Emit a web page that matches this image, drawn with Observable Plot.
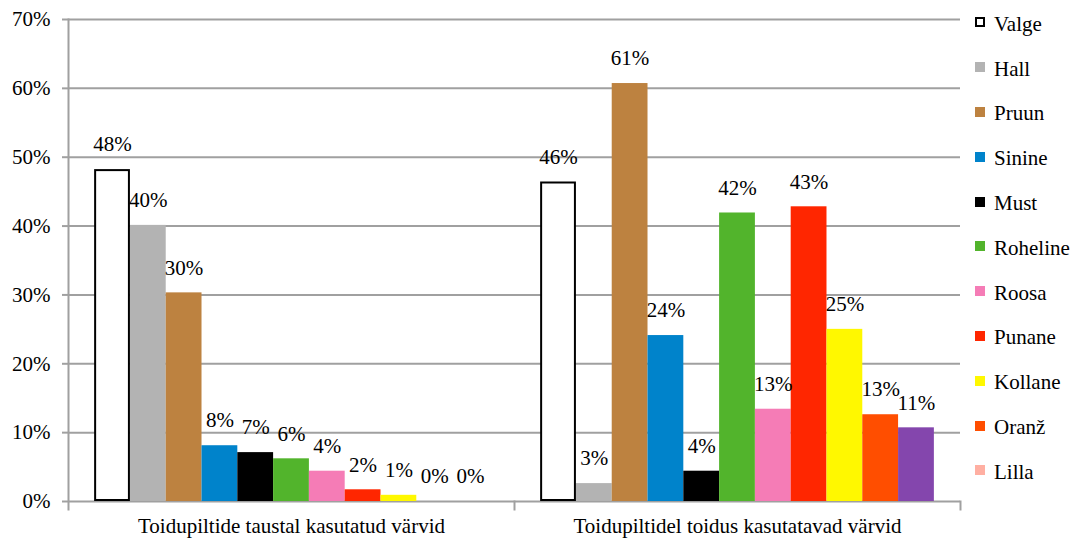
<!DOCTYPE html>
<html>
<head>
<meta charset="utf-8">
<script src="https://cdn.jsdelivr.net/npm/d3@7"></script>
<script src="https://cdn.jsdelivr.net/npm/@observablehq/plot@0.6"></script>
<style>
  body { margin: 0; background: #fff; font-family: "Liberation Serif", "DejaVu Serif", serif; }
  #wrap { position: relative; width: 1073px; height: 539px; }
  #chart { position: absolute; left: 0; top: 0; }
  #chart svg text { font-family: "Liberation Serif", serif; }
  #legend { position: absolute; left: 975px; top: 2px; font-size: 21px; color: #000; font-family: "Liberation Serif", serif; }
  .item { display: flex; align-items: center; height: 44.8px; }
  .item .sw { width: 10px; height: 10px; margin-right: 9px; box-sizing: border-box; position: relative; top: -2px; }
  .item .lb { line-height: 1; }
</style>
</head>
<body>
<div id="wrap">
  <div id="chart"></div>
  <div id="legend"></div>
</div>
<script>
const groups = ["Toidupiltide taustal kasutatud värvid", "Toidupiltidel toidus kasutatavad värvid"];
const series = ["Valge", "Hall", "Pruun", "Sinine", "Must", "Roheline", "Roosa", "Punane", "Kollane", "Oranž", "Lilla"];
const background = [48.2, 40.1, 30.3, 8.1, 7.1, 6.2, 4.4, 1.7, 0.9, 0, 0];
const food = [46.4, 2.6, 60.7, 24.1, 4.4, 41.9, 13.4, 42.8, 25.0, 12.6, 10.7];
const barColors = ["#ffffff", "#b3b3b3", "#bd8240", "#0083cb", "#000000", "#52b42c", "#f57cb6", "#ff2600", "#fff800", "#ff4e00", "#8446ad"];
const legendColors = ["#ffffff", "#b3b3b3", "#bd8240", "#0083cb", "#000000", "#52b42c", "#f57cb6", "#ff2600", "#fff800", "#ff4e00", "#ffafa2"];
const yTicks = [0, 10, 20, 30, 40, 50, 60, 70];

const data = [];
series.forEach((s, i) => data.push({group: groups[0], series: s, value: background[i]}));
series.forEach((s, i) => data.push({group: groups[1], series: s, value: food[i]}));

const grid = "#a0a0a0";
const font = "Liberation Serif";
const chart = Plot.plot({
  width: 962,
  height: 539,
  marginLeft: 68,
  marginRight: 2,
  marginTop: 19,
  marginBottom: 38,
  style: {fontFamily: font, fontSize: "21px", color: "#000", background: "transparent"},
  fx: {domain: groups, padding: 0, axis: null, round: false},
  x: {domain: series, paddingInner: 0, paddingOuter: 0.73, axis: null, round: false},
  y: {domain: [0, 70], axis: null},
  color: {domain: series, range: barColors},
  marks: [
    Plot.gridY(yTicks.filter(d => d > 0), {stroke: grid, strokeOpacity: 1, strokeWidth: 2}),
    Plot.ruleY([0], {stroke: grid, strokeWidth: 2}),
    Plot.frame({anchor: "left", facetAnchor: "left", stroke: grid, strokeWidth: 2, insetBottom: -8}),
    Plot.frame({anchor: "right", stroke: grid, strokeWidth: 2, insetTop: 482, insetBottom: -8}),
    Plot.axisY({ticks: yTicks, tickFormat: d => d + "%", tickSize: 6, tickPadding: 12, stroke: grid, strokeWidth: 2, fill: "#000", fontSize: 21, fontFamily: font, label: null}),
    Plot.axisFx({anchor: "bottom", tickSize: 0, tickPadding: 17, fontSize: 21, fontFamily: font, label: null, fill: "#000"}),
    Plot.barY(data.filter(d => d.series !== "Valge"), {fx: "group", x: "series", y: "value", fill: "series", inset: 0}),
    Plot.barY(data.filter(d => d.series === "Valge"), {fx: "group", x: "series", y: "value", fill: "white", stroke: "black", strokeWidth: 2, inset: 1}),
    Plot.text(data, {fx: "group", x: "series", y: "value", text: d => Math.round(d.value) + "%", dy: -25, fontSize: 21, fontFamily: font, fill: "#000", lineAnchor: "middle"})
  ]
});
document.getElementById("chart").appendChild(chart);

const legend = document.getElementById("legend");
series.forEach((s, i) => {
  const item = document.createElement("div");
  item.className = "item";
  const sw = document.createElement("div");
  sw.className = "sw";
  sw.style.background = legendColors[i];
  if (s === "Valge") sw.style.border = "2px solid #000";
  const lb = document.createElement("span");
  lb.className = "lb";
  lb.textContent = s;
  item.appendChild(sw);
  item.appendChild(lb);
  legend.appendChild(item);
});
</script>
</body>
</html>
